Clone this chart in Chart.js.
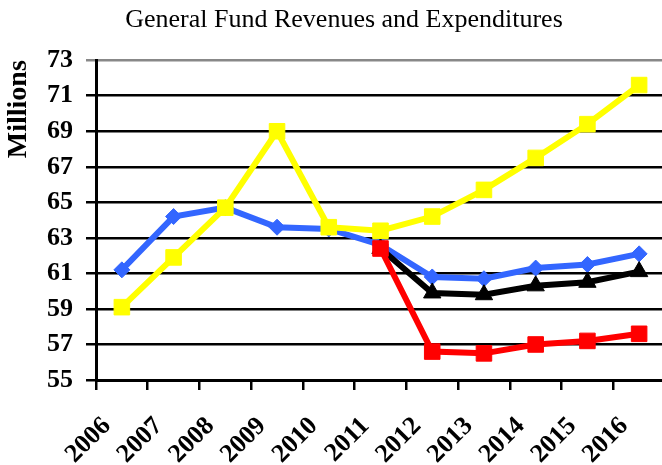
<!DOCTYPE html>
<html>
<head>
<meta charset="utf-8">
<script src="https://cdn.jsdelivr.net/npm/chart.js@4"></script>
<style>
html,body{margin:0;padding:0;overflow:hidden;background:#fff;width:662px;height:465px;}
canvas{display:block;}
</style>
</head>
<body>
<canvas id="c" width="688" height="465"></canvas>
<script>
const categories = ['2006','2007','2008','2009','2010','2011','2012','2013','2014','2015','2016'];
const blueSeries   = [61.2, 64.2, 64.7, 63.6, 63.5, 62.6, 60.8, 60.7, 61.3, 61.5, 62.1];
const yellowSeries = [59.1, 61.9, 64.7, 69.0, 63.6, 63.4, 64.2, 65.7, 67.5, 69.4, 71.6];
const blackSeries  = [null, null, null, null, null, 62.4, 59.9, 59.8, 60.3, 60.5, 61.1];
const redSeries    = [null, null, null, null, null, 62.4, 56.6, 56.5, 57.0, 57.2, 57.6];
const yMin = 55, yMax = 73, yStep = 2;
const titleText = 'General Fund Revenues and Expenditures';
const yTitle = 'Millions';

const serif = "'Liberation Serif', 'Times New Roman', serif";

function ds(data, color, style, radius) {
  return {
    data: data,
    borderColor: color,
    backgroundColor: color,
    borderWidth: 6,
    pointStyle: style,
    pointRadius: radius,
    pointBorderWidth: 1,
    pointBorderColor: color,
    pointBackgroundColor: color,
    tension: 0,
    spanGaps: false
  };
}

new Chart(document.getElementById('c'), {
  type: 'line',
  data: {
    labels: categories,
    datasets: [
      ds(redSeries, '#ff0000', 'rect', 11),
      ds(yellowSeries, '#ffff00', 'rect', 11),
      ds(blackSeries, '#000000', 'triangle', 10),
      ds(blueSeries, '#3366ff', 'rectRot', 8)
    ]
  },
  options: {
    responsive: false,
    animation: false,
    devicePixelRatio: 1,
    layout: { padding: { left: 23, right: 23, top: 0, bottom: 0 } },
    plugins: {
      legend: { display: false },
      tooltip: { enabled: false },
      title: {
        display: true,
        text: titleText,
        color: '#000',
        font: { family: serif, size: 26, weight: 'normal' },
        padding: { top: 5, bottom: 24 }
      }
    },
    scales: {
      x: {
        type: 'category',
        offset: true,
        afterFit(scale) {
          scale.height = 85;
          scale.paddingLeft = 0;
          scale.paddingRight = 0;
        },
        border: { display: true, color: '#000', width: 3 },
        grid: {
          offset: true,
          drawOnChartArea: false,
          drawTicks: true,
          tickLength: 10,
          color: '#000',
          lineWidth: 2.5
        },
        ticks: {
          autoSkip: false,
          minRotation: 45,
          maxRotation: 45,
          labelOffset: -15,
          padding: 21,
          color: '#000',
          font: { family: serif, size: 26, weight: 'bold' }
        }
      },
      y: {
        min: yMin,
        max: yMax,
        afterFit(scale) { scale.width = 73; },
        border: { display: true, color: '#000', width: 3 },
        grid: {
          drawTicks: true,
          tickLength: 10,
          lineWidth: 2.5,
          color: (ctx) => (ctx.tick && ctx.tick.value === yMax) ? '#888888' : '#000000'
        },
        ticks: {
          stepSize: yStep,
          padding: 13,
          color: '#000',
          font: { family: serif, size: 26, weight: 'bold' }
        },
        title: {
          display: true,
          text: yTitle,
          align: 'end',
          color: '#000',
          padding: { top: -21, bottom: 0 },
          font: { family: serif, size: 28, weight: 'bold' }
        }
      }
    }
  }
});
</script>
</body>
</html>
